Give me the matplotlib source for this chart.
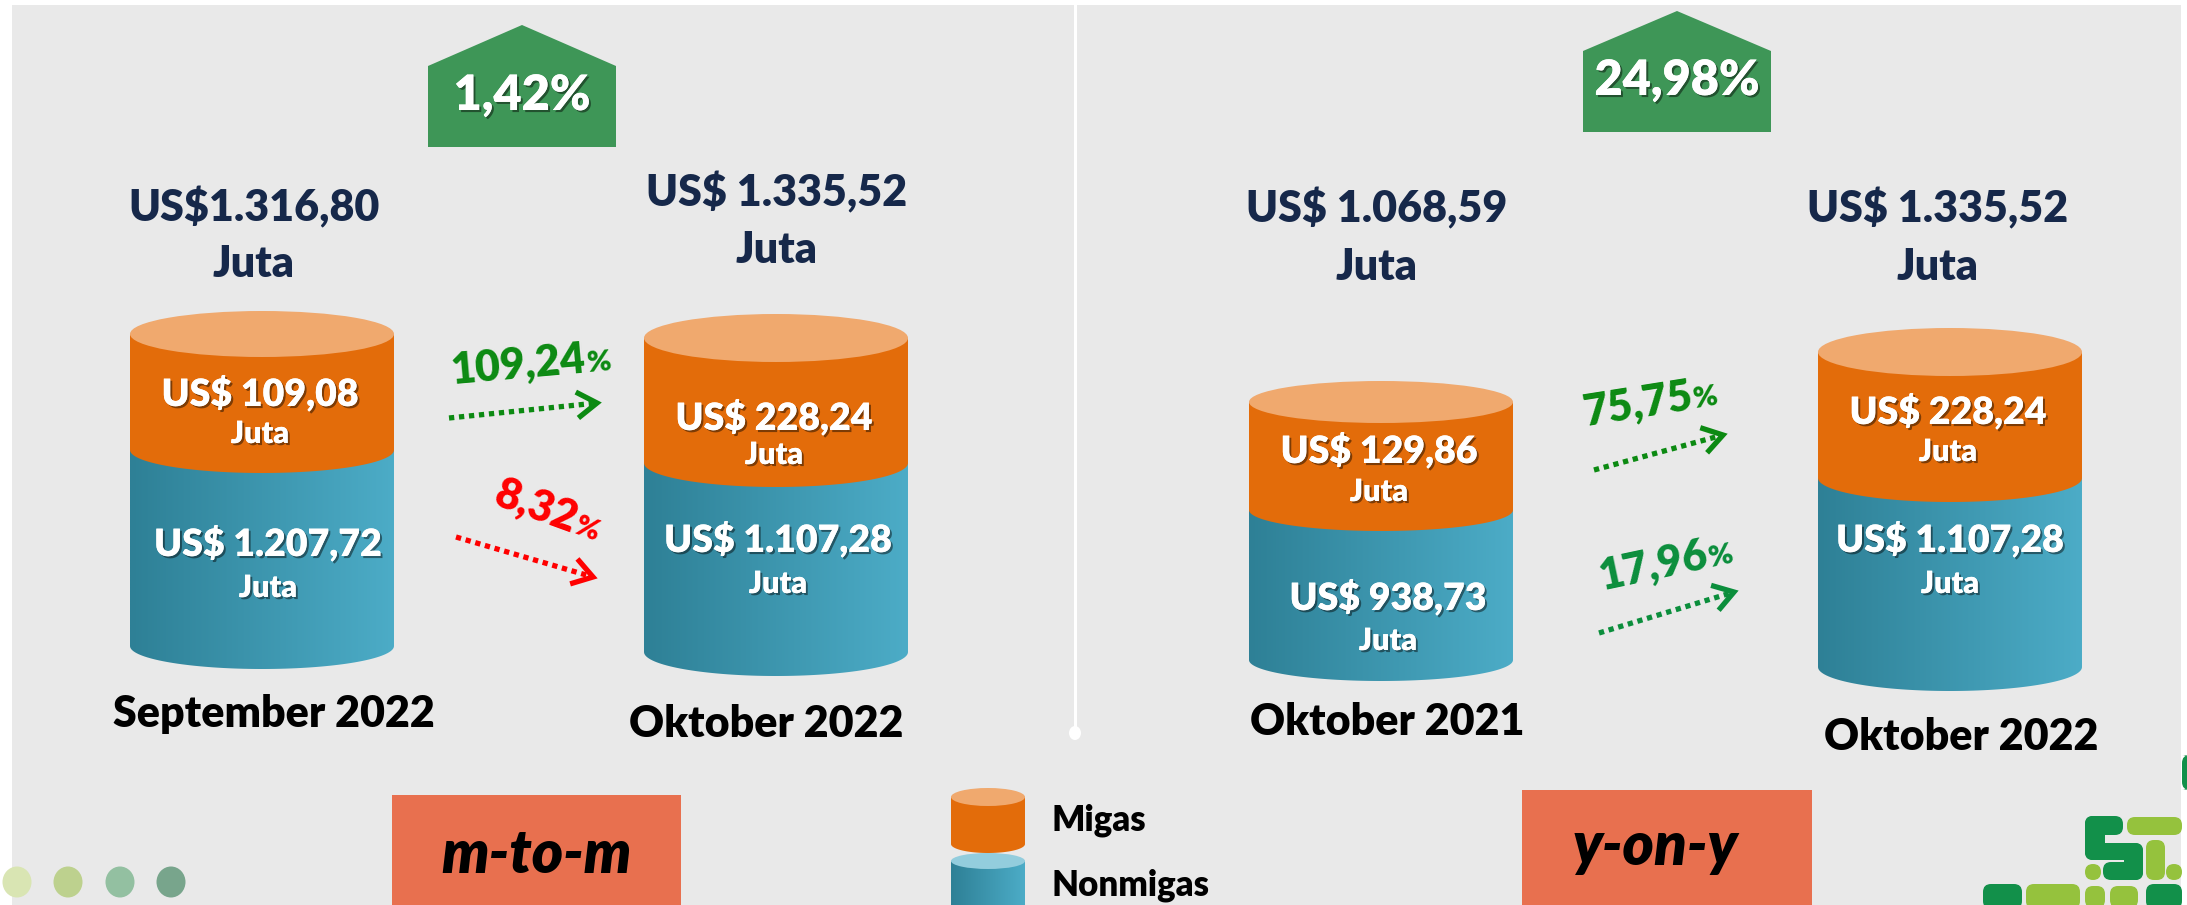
import matplotlib
matplotlib.use('Agg')
import matplotlib.pyplot as plt
import matplotlib.patheffects as pe
import numpy as np
from matplotlib.patches import Polygon, Ellipse, Rectangle, PathPatch, FancyBboxPatch
from matplotlib.path import Path
from matplotlib.colors import LinearSegmentedColormap

plt.rcParams['font.family'] = ['Lato', 'DejaVu Sans']

# ---- data (US$ juta) ----
periods = ['September 2022', 'Oktober 2022', 'Oktober 2021', 'Oktober 2022']
total_prefix = ['US$', 'US$ ', 'US$ ', 'US$ ']
total = [1316.80, 1335.52, 1068.59, 1335.52]
migas = [109.08, 228.24, 129.86, 228.24]
nonmigas = [1207.72, 1107.28, 938.73, 1107.28]
total_growth = [1.42, 24.98]
migas_growth = [109.24, 75.75]
nonmigas_growth = [-8.32, 17.96]
compare = ['m-to-m', 'y-on-y']
legend_labels = ['Migas', 'Nonmigas']

# ---- layout (pixels) ----
cyl_x = [262, 776, 1381, 1950]
cyl_top = [334, 338, 402, 352]
cyl_mid = [450, 463, 510, 478]
cyl_bot = [646, 652, 660, 667]
cyl_ry = [23, 24, 21, 24]
cyl_rx = 132

tot_x = [254, 777, 1377, 1938]
tot_y = [221, 206, 222, 222]
tot_juta_y = [277, 263, 280, 280]
mig_x = [260, 774, 1379, 1948]
mig_y = [406, 430, 463, 424]
mig_juta_y = [443, 464, 501, 461]
non_x = [268, 778, 1388, 1950]
non_y = [556, 552, 610, 552]
non_juta_y = [597, 593, 650, 593]
per_x = [274, 766, 1387, 1961]
per_y = [727, 737, 735, 750]

NAVY = '#16284A'
ORANGE = '#E36C0A'
ORANGE_TOP = '#F0A96E'
BLUE_TOP = '#93CDDD'
GREEN_BOX = '#3E9657'
CORAL = '#E8704F'
W = 'heavy'
blue_cmap = LinearSegmentedColormap.from_list('blue', ['#2E8096', '#4CACC7'])

fig = plt.figure(figsize=(21.87, 9.05), dpi=100)
ax = fig.add_axes([0, 0, 1, 1])
ax.set_xlim(0, 2187)
ax.set_ylim(905, 0)
ax.axis('off')

shadow = [pe.withSimplePatchShadow(offset=(1.5, -1.5), shadow_rgbFace='black', alpha=0.45), pe.Normal()]


def fmt(v):
    s = f'{abs(v):,.2f}'
    return s.replace(',', 'X').replace('.', ',').replace('X', '.')


def body_path(cx, y0, y1, rx, ry):
    t = np.linspace(0, np.pi, 80)
    xs = np.concatenate([[cx - rx], cx - rx * np.cos(t), [cx + rx, cx - rx]])
    ys = np.concatenate([[y0], y1 + ry * np.sin(t), [y0, y0]])
    return Path(np.column_stack([xs, ys]))


def blue_body(cx, y0, y1, rx, ry, z):
    patch = PathPatch(body_path(cx, y0, y1, rx, ry), facecolor='none', edgecolor='none', zorder=z)
    ax.add_patch(patch)
    grad = np.linspace(0, 1, 256).reshape(1, -1)
    im = ax.imshow(grad, cmap=blue_cmap, extent=(cx - rx, cx + rx, y1 + ry, y0),
                   aspect='auto', zorder=z, interpolation='bilinear')
    im.set_clip_path(patch)


def orange_body(cx, y0, y1, rx, ry, z):
    ax.add_patch(PathPatch(body_path(cx, y0, y1, rx, ry), facecolor=ORANGE, edgecolor='none', zorder=z))


def cylinder(cx, top, mid, bot, rx, ry):
    blue_body(cx, mid, bot, rx, ry, 2)
    orange_body(cx, top, mid, rx, ry, 3)
    ax.add_patch(Ellipse((cx, top), 2 * rx, 2 * ry, facecolor=ORANGE_TOP, edgecolor='none', zorder=4))


def arrow(x0, y0, x1, y1, color):
    u = np.array([x1 - x0, y1 - y0], dtype=float)
    u /= np.hypot(*u)
    n = np.array([-u[1], u[0]])
    tip = np.array([x1, y1], dtype=float)
    end = tip - 5 * u
    ax.plot([x0, end[0]], [y0, end[1]], color=color, lw=3.8, linestyle=(0, (1, 0.9)), zorder=5)
    a = tip - 20 * u + 13 * n
    b = tip - 20 * u - 13 * n
    ax.plot([a[0], tip[0], b[0]], [a[1], tip[1], b[1]], color=color, lw=3.8,
            solid_joinstyle='miter', solid_capstyle='butt', zorder=5)


def pct_label(x, y, value, angle, color):
    kw = dict(va='baseline', rotation=angle, rotation_mode='anchor', fontweight=W, color=color, zorder=6)
    ax.text(x, y, fmt(value), ha='right', fontsize=31, **kw)
    ax.text(x + 1, y, '%', ha='left', fontsize=21, **kw)


# background
ax.add_patch(Rectangle((12, 5), 2169, 905, facecolor='#E9E9E9', edgecolor='none', zorder=0))
ax.plot([1075, 1075], [0, 733], color='white', lw=2.2, zorder=1)
ax.add_patch(Ellipse((1075, 733), 12, 14, facecolor='white', edgecolor='none', zorder=1))

# green pentagons with total growth
pent = [(428, 616, 25, 66, 147), (1583, 1771, 11, 51, 132)]
pent_text_y = [110, 95]
for (x0, x1, tip, sh, bt), g, ty in zip(pent, total_growth, pent_text_y):
    ax.add_patch(Polygon([(x0, bt), (x0, sh), ((x0 + x1) / 2, tip), (x1, sh), (x1, bt)],
                         closed=True, facecolor=GREEN_BOX, edgecolor='none', zorder=2))
    ax.text((x0 + x1) / 2, ty, fmt(g) + '%', ha='center', va='baseline', fontsize=35,
            fontweight=W, color='white', path_effects=shadow, zorder=3)

# cylinders and labels
for i in range(4):
    cylinder(cyl_x[i], cyl_top[i], cyl_mid[i], cyl_bot[i], cyl_rx, cyl_ry[i])
    ax.text(tot_x[i], tot_y[i], total_prefix[i] + fmt(total[i]), ha='center', va='baseline',
            fontsize=31, fontweight=W, color=NAVY)
    ax.text(tot_x[i], tot_juta_y[i], 'Juta', ha='center', va='baseline',
            fontsize=31, fontweight=W, color=NAVY)
    ax.text(mig_x[i], mig_y[i], 'US$ ' + fmt(migas[i]), ha='center', va='baseline',
            fontsize=27, fontweight=W, color='white', path_effects=shadow, zorder=6)
    ax.text(mig_x[i], mig_juta_y[i], 'Juta', ha='center', va='baseline',
            fontsize=22, fontweight=W, color='white', path_effects=shadow, zorder=6)
    ax.text(non_x[i], non_y[i], 'US$ ' + fmt(nonmigas[i]), ha='center', va='baseline',
            fontsize=27, fontweight=W, color='white', path_effects=shadow, zorder=6)
    ax.text(non_x[i], non_juta_y[i], 'Juta', ha='center', va='baseline',
            fontsize=22, fontweight=W, color='white', path_effects=shadow, zorder=6)
    ax.text(per_x[i], per_y[i], periods[i], ha='center', va='baseline',
            fontsize=31, fontweight=W, color='black')

# growth arrows
GREEN_A = '#0C8A12'
GREEN_B = '#0B8E3C'
arrow(449, 418, 597, 403, GREEN_A)
pct_label(587, 372, migas_growth[0], 5, GREEN_A)
arrow(456, 537, 593, 577, 'red')
pct_label(572, 533, nonmigas_growth[0], -20, 'red')
arrow(1594, 470, 1723, 435, GREEN_A)
pct_label(1694, 408, migas_growth[1], 9, GREEN_A)
arrow(1599, 633, 1734, 592, GREEN_B)
pct_label(1710, 567, nonmigas_growth[1], 12, GREEN_B)

# comparison boxes
boxes = [(392, 795, 289), (1522, 790, 290)]
box_text = [(537, 873), (1655, 865)]
for (bx, by, bw), (tx, ty), lab in zip(boxes, box_text, compare):
    ax.add_patch(Rectangle((bx, by), bw, 905 - by + 5, facecolor=CORAL, edgecolor='none', zorder=2))
    ax.text(tx, ty, lab, ha='center', va='baseline', fontsize=43, fontweight=W,
            style='italic', color='black', zorder=3)

# legend
orange_body(988, 797, 844, 37, 9, 3)
ax.add_patch(Ellipse((988, 797), 74, 18, facecolor=ORANGE_TOP, edgecolor='none', zorder=4))
blue_body(988, 861, 930, 37, 8, 3)
ax.add_patch(Ellipse((988, 861), 74, 16, facecolor=BLUE_TOP, edgecolor='none', zorder=4))
ax.text(1052, 830, legend_labels[0], ha='left', va='baseline', fontsize=25, fontweight=W, color='black')
ax.text(1052, 895, legend_labels[1], ha='left', va='baseline', fontsize=25, fontweight=W, color='black')

# decorative dots
dot_x = [17, 68, 120, 171]
dot_c = ['#D9E5B3', '#BDD18E', '#93C0A1', '#78A58C']
for x, c in zip(dot_x, dot_c):
    ax.add_patch(Ellipse((x, 882), 29, 31, facecolor=c, edgecolor='none', zorder=2))

# logo (rough)
DG = '#12904A'
LG = '#95C23D'
logo = [(2085, 816, 38, 19, DG), (2085, 816, 20, 44, DG), (2085, 843, 58, 17, DG),
        (2124, 843, 19, 37, DG), (2103, 862, 40, 18, DG), (2127, 817, 55, 18, LG),
        (2146, 840, 19, 40, LG), (2085, 864, 16, 16, LG), (2166, 864, 16, 16, LG),
        (1983, 884, 39, 25, DG), (2026, 884, 54, 25, LG), (2085, 886, 20, 22, LG),
        (2110, 886, 28, 22, LG), (2146, 884, 36, 25, DG), (2182, 755, 8, 35, DG)]
for x, y, w, h, c in logo:
    ax.add_patch(FancyBboxPatch((x, y), w, h, boxstyle='round,pad=0,rounding_size=8',
                                facecolor=c, edgecolor='none', zorder=5))

fig.savefig('out.png', dpi=100)
